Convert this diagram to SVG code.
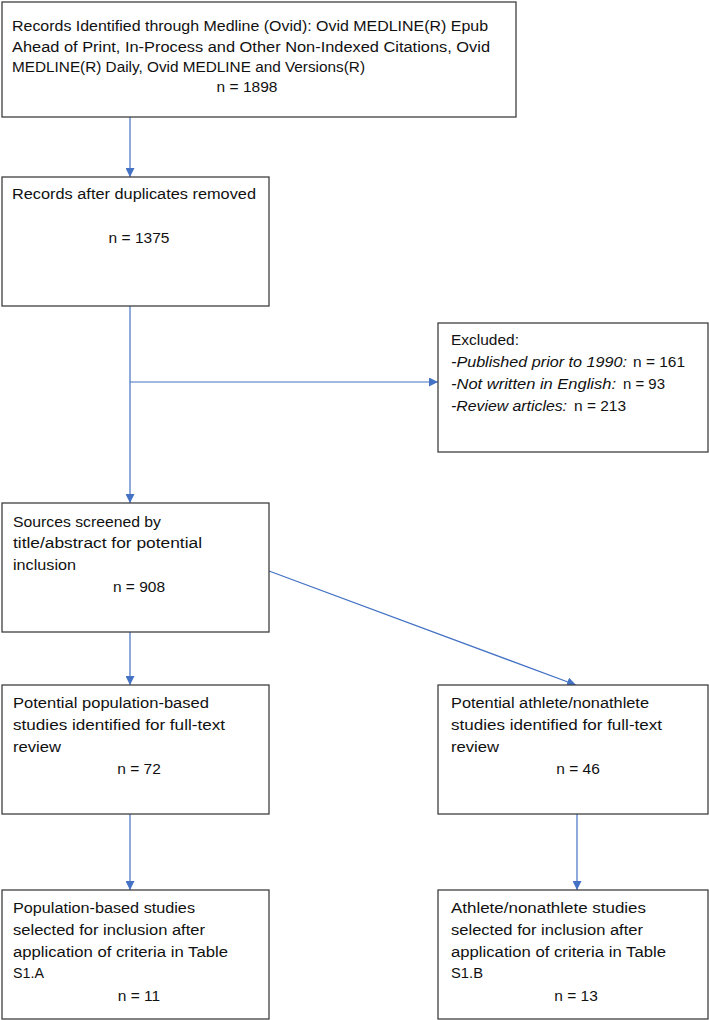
<svg xmlns="http://www.w3.org/2000/svg" width="709" height="1020" viewBox="0 0 709 1020">
<defs>
<marker id="ah" viewBox="0 0 10 10" refX="10" refY="5" markerWidth="9" markerHeight="9" markerUnits="userSpaceOnUse" orient="auto">
<path d="M0,0 L10,5 L0,10 Z" fill="#4472C4"/>
</marker>
<style>
.box{fill:#fff;stroke:#404040;stroke-width:1.3}
.t{font-family:"Liberation Sans",Arial,sans-serif;font-size:15.5px;fill:#111}
.m{text-anchor:middle}
.c{stroke:#4472C4;stroke-width:1.2;fill:none}
.i{font-style:italic}
</style>
</defs>
<rect width="709" height="1020" fill="#fff"/>
<g id="connectors">
<line class="c" x1="130" y1="117" x2="130" y2="177" marker-end="url(#ah)"/>
<line class="c" x1="130" y1="306" x2="130" y2="503" marker-end="url(#ah)"/>
<line class="c" x1="130" y1="382" x2="438" y2="382" marker-end="url(#ah)"/>
<line class="c" x1="130" y1="632" x2="130" y2="685" marker-end="url(#ah)"/>
<line class="c" x1="269" y1="571" x2="576" y2="685" marker-end="url(#ah)"/>
<line class="c" x1="130" y1="814" x2="130" y2="890" marker-end="url(#ah)"/>
<line class="c" x1="577" y1="814" x2="577" y2="890" marker-end="url(#ah)"/>
</g>
<g id="records-identified">
<rect class="box" x="2" y="2" width="514" height="115"/>
<text class="t" x="12" y="31" textLength="476" lengthAdjust="spacingAndGlyphs">Records Identified through Medline (Ovid): Ovid MEDLINE(R) Epub</text>
<text class="t" x="12" y="52" textLength="478" lengthAdjust="spacingAndGlyphs">Ahead of Print, In-Process and Other Non-Indexed Citations, Ovid</text>
<text class="t" x="12" y="72" textLength="353" lengthAdjust="spacingAndGlyphs">MEDLINE(R) Daily, Ovid MEDLINE and Versions(R)</text>
<text class="t m" x="247" y="92">n = 1898</text>
</g>
<g id="duplicates-removed">
<rect class="box" x="2" y="177" width="267" height="129"/>
<text class="t" x="12" y="199" textLength="244" lengthAdjust="spacingAndGlyphs">Records after duplicates removed</text>
<text class="t m" x="139" y="243">n = 1375</text>
</g>
<g id="excluded">
<rect class="box" x="438" y="323" width="270" height="129"/>
<text class="t" x="451" y="345" textLength="68" lengthAdjust="spacingAndGlyphs">Excluded:</text>
<text class="t i" x="451" y="367" textLength="176" lengthAdjust="spacingAndGlyphs">-Published prior to 1990:</text>
<text class="t" x="633" y="367" textLength="52" lengthAdjust="spacingAndGlyphs">n = 161</text>
<text class="t i" x="451" y="389" textLength="165" lengthAdjust="spacingAndGlyphs">-Not written in English:</text>
<text class="t" x="623" y="389" textLength="42" lengthAdjust="spacingAndGlyphs">n = 93</text>
<text class="t i" x="451" y="411" textLength="116" lengthAdjust="spacingAndGlyphs">-Review articles:</text>
<text class="t" x="574" y="411" textLength="52" lengthAdjust="spacingAndGlyphs">n = 213</text>
</g>
<g id="sources-screened">
<rect class="box" x="2" y="503" width="267" height="129"/>
<text class="t" x="13" y="527" textLength="148" lengthAdjust="spacingAndGlyphs">Sources screened by</text>
<text class="t" x="13" y="548" textLength="189" lengthAdjust="spacingAndGlyphs">title/abstract for potential</text>
<text class="t" x="13" y="570" textLength="63" lengthAdjust="spacingAndGlyphs">inclusion</text>
<text class="t m" x="139" y="592">n = 908</text>
</g>
<g id="potential-population">
<rect class="box" x="2" y="685" width="267" height="129"/>
<text class="t" x="13" y="708" textLength="196" lengthAdjust="spacingAndGlyphs">Potential population-based</text>
<text class="t" x="13" y="730" textLength="212" lengthAdjust="spacingAndGlyphs">studies identified for full-text</text>
<text class="t" x="13" y="752" textLength="48" lengthAdjust="spacingAndGlyphs">review</text>
<text class="t m" x="139" y="774">n = 72</text>
</g>
<g id="potential-athlete">
<rect class="box" x="438" y="685" width="270" height="129"/>
<text class="t" x="451" y="708" textLength="198" lengthAdjust="spacingAndGlyphs">Potential athlete/nonathlete</text>
<text class="t" x="451" y="730" textLength="211" lengthAdjust="spacingAndGlyphs">studies identified for full-text</text>
<text class="t" x="451" y="752" textLength="48" lengthAdjust="spacingAndGlyphs">review</text>
<text class="t m" x="578" y="774">n = 46</text>
</g>
<g id="population-selected">
<rect class="box" x="2" y="890" width="267" height="129"/>
<text class="t" x="13" y="913" textLength="182" lengthAdjust="spacingAndGlyphs">Population-based studies</text>
<text class="t" x="13" y="935" textLength="192" lengthAdjust="spacingAndGlyphs">selected for inclusion after</text>
<text class="t" x="13" y="957" textLength="215" lengthAdjust="spacingAndGlyphs">application of criteria in Table</text>
<text class="t" x="13" y="978" textLength="31" lengthAdjust="spacingAndGlyphs">S1.A</text>
<text class="t m" x="139" y="1001">n = 11</text>
</g>
<g id="athlete-selected">
<rect class="box" x="438" y="890" width="270" height="129"/>
<text class="t" x="451" y="913" textLength="195" lengthAdjust="spacingAndGlyphs">Athlete/nonathlete studies</text>
<text class="t" x="451" y="935" textLength="192" lengthAdjust="spacingAndGlyphs">selected for inclusion after</text>
<text class="t" x="451" y="957" textLength="215" lengthAdjust="spacingAndGlyphs">application of criteria in Table</text>
<text class="t" x="451" y="978" textLength="32" lengthAdjust="spacingAndGlyphs">S1.B</text>
<text class="t m" x="576" y="1001">n = 13</text>
</g>
</svg>
